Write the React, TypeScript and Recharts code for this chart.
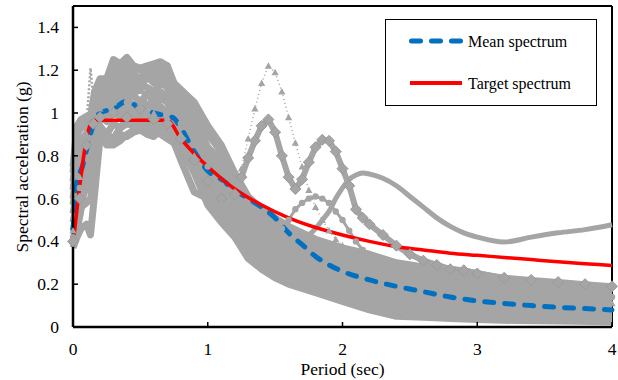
import React from 'react';
import { ComposedChart, Line, XAxis, YAxis, ReferenceLine, Legend } from 'recharts';

const FONT = '"Liberation Serif", "Times New Roman", Times, serif';
const GREY = '#A5A5A5';
const BLUE = '#0070C0';
const RED = '#FF0000';

// ---- periods (sec) shared by the band records ----
const periods = [0, 0.03, 0.06, 0.1, 0.13, 0.16, 0.2, 0.25, 0.3, 0.35, 0.4, 0.45, 0.5, 0.55, 0.6, 0.65, 0.7, 0.75, 0.8, 0.9, 1.0, 1.1, 1.2, 1.3, 1.4, 1.5, 1.6, 1.8, 2.0, 2.2, 2.4, 2.6, 2.8, 3.0, 3.3, 3.6, 4.0];

// ---- ground-motion records (spectral acceleration, g) ----
const record01 = [0.37, 0.42, 0.46, 0.48, 0.43, 0.62, 0.88, 0.86, 0.87, 0.9, 0.89, 0.91, 0.92, 0.9, 0.89, 0.92, 0.91, 0.87, 0.84, 0.72, 0.57, 0.49, 0.42, 0.32, 0.27, 0.23, 0.2, 0.16, 0.12, 0.08, 0.05, 0.045, 0.04, 0.035, 0.03, 0.028, 0.025];
const record02 = [0.4, 0.5, 0.6, 0.7, 0.75, 0.85, 0.92, 0.9, 0.88, 0.93, 0.95, 0.94, 0.96, 0.93, 0.92, 0.95, 0.94, 0.9, 0.86, 0.74, 0.6, 0.52, 0.45, 0.36, 0.3, 0.26, 0.22, 0.18, 0.14, 0.1, 0.07, 0.06, 0.055, 0.05, 0.045, 0.04, 0.035];
const record03 = [0.45, 0.53, 0.56, 0.58, 0.6, 0.72, 0.94, 0.9, 0.95, 0.93, 0.97, 0.95, 0.98, 0.96, 0.94, 0.98, 0.96, 0.93, 0.9, 0.78, 0.64, 0.57, 0.48, 0.38, 0.33, 0.29, 0.26, 0.21, 0.17, 0.13, 0.1, 0.094, 0.086, 0.078, 0.068, 0.062, 0.057];
const record04 = [0.49, 0.58, 0.62, 0.64, 0.68, 0.77, 0.99, 0.96, 1.01, 0.98, 1.02, 0.99, 1.03, 1.0, 0.98, 1.03, 1.0, 0.96, 0.92, 0.81, 0.67, 0.6, 0.5, 0.41, 0.36, 0.32, 0.28, 0.24, 0.2, 0.16, 0.13, 0.12, 0.11, 0.1, 0.087, 0.08, 0.073];
const record05 = [0.53, 0.63, 0.67, 0.69, 0.74, 0.82, 1.03, 1.0, 1.05, 1.02, 1.07, 1.03, 1.06, 1.04, 1.02, 1.07, 1.05, 0.99, 0.95, 0.84, 0.71, 0.64, 0.53, 0.44, 0.39, 0.35, 0.31, 0.26, 0.22, 0.19, 0.15, 0.14, 0.13, 0.12, 0.106, 0.097, 0.089];
const record06 = [0.57, 0.69, 0.72, 0.74, 0.8, 0.87, 1.06, 1.04, 1.09, 1.06, 1.1, 1.08, 1.05, 1.09, 1.07, 1.1, 1.08, 1.02, 0.98, 0.88, 0.74, 0.68, 0.56, 0.47, 0.42, 0.38, 0.34, 0.29, 0.25, 0.22, 0.18, 0.17, 0.155, 0.14, 0.125, 0.114, 0.105];
const record07 = [0.6, 0.74, 0.77, 0.79, 0.84, 0.92, 1.09, 1.07, 1.13, 1.1, 1.14, 1.11, 1.13, 1.12, 1.1, 1.14, 1.12, 1.05, 1.01, 0.91, 0.77, 0.71, 0.59, 0.5, 0.44, 0.4, 0.37, 0.32, 0.28, 0.24, 0.21, 0.19, 0.18, 0.16, 0.144, 0.131, 0.121];
const record08 = [0.64, 0.79, 0.82, 0.84, 0.88, 0.97, 1.12, 1.1, 1.17, 1.13, 1.18, 1.15, 1.12, 1.17, 1.14, 1.18, 1.15, 1.08, 1.04, 0.94, 0.81, 0.75, 0.62, 0.53, 0.47, 0.43, 0.4, 0.34, 0.3, 0.27, 0.23, 0.22, 0.2, 0.185, 0.163, 0.148, 0.137];
const record09 = [0.68, 0.84, 0.88, 0.9, 0.92, 1.02, 1.14, 1.12, 1.2, 1.17, 1.22, 1.18, 1.16, 1.2, 1.18, 1.21, 1.18, 1.1, 1.06, 0.97, 0.84, 0.78, 0.64, 0.56, 0.5, 0.46, 0.42, 0.37, 0.33, 0.3, 0.26, 0.24, 0.22, 0.21, 0.18, 0.166, 0.153];
const record10 = [0.72, 0.9, 0.93, 0.95, 0.96, 1.07, 1.14, 1.14, 1.24, 1.2, 1.25, 1.21, 1.2, 1.22, 1.21, 1.23, 1.22, 1.12, 1.09, 1.02, 0.9, 0.82, 0.67, 0.59, 0.53, 0.49, 0.45, 0.39, 0.35, 0.32, 0.28, 0.265, 0.247, 0.23, 0.2, 0.183, 0.17];
const record11 = [0.38, 0.45, 0.55, 0.7, 0.8, 0.88, 0.9, 0.85, 0.85, 0.87, 0.9, 0.92, 0.95, 0.93, 0.95, 0.9, 0.88, 0.86, 0.78, 0.63, 0.6, 0.52, 0.44, 0.38, 0.33, 0.29, 0.25, 0.2, 0.15, 0.11, 0.08, 0.07, 0.06, 0.05, 0.045, 0.04, 0.035];
const record12 = [0.75, 0.94, 0.97, 0.985, 0.985, 1.1, 1.16, 1.16, 1.25, 1.23, 1.26, 1.22, 1.21, 1.22, 1.23, 1.24, 1.22, 1.14, 1.11, 1.05, 0.94, 0.85, 0.72, 0.61, 0.55, 0.51, 0.47, 0.41, 0.37, 0.34, 0.3, 0.28, 0.27, 0.25, 0.21, 0.195, 0.18];
const recordDotted = [0.42, 0.6, 0.85, 0.95, 1.21, 1.0, 1.05, 1.0, 1.02, 1.05, 1.18, 1.0, 0.98, 1.0, 0.97, 1.0, 0.98, 0.95, 0.9, 0.8, 0.7, 0.62, 0.55, 0.47, 0.41, 0.36, 0.32, 0.27, 0.23, 0.19, 0.16, 0.14, 0.12, 0.11, 0.1, 0.09, 0.085];

const bandRecords = [record01, record02, record03, record04, record05, record06, record07, record08, record09, record10, record11, record12];

// ---- records with long-period peaks (finer period grid) ----
const peakPeriods = [0, 0.05, 0.1, 0.15, 0.2, 0.3, 0.4, 0.5, 0.6, 0.7, 0.8, 0.9, 1.0, 1.1, 1.2, 1.25, 1.3, 1.35, 1.4, 1.45, 1.5, 1.55, 1.6, 1.65, 1.7, 1.75, 1.8, 1.85, 1.9, 1.95, 2.0, 2.05, 2.1, 2.15, 2.2, 2.3, 2.4, 2.5, 2.6, 2.7, 2.8, 2.9, 3.0, 3.2, 3.4, 3.6, 3.8, 4.0];
const recordTriangles = [0.45, 0.7, 0.9, 1.0, 1.02, 1.05, 1.1, 1.05, 1.0, 0.98, 0.9, 0.8, 0.68, 0.58, 0.62, 0.74, 0.88, 1.02, 1.14, 1.22, 1.19, 1.1, 0.98, 0.86, 0.75, 0.64, 0.56, 0.5, 0.45, 0.41, 0.38, 0.36, 0.34, 0.32, 0.3, 0.27, 0.25, 0.23, 0.21, 0.2, 0.19, 0.18, 0.17, 0.15, 0.14, 0.13, 0.12, 0.11];
const recordDiamonds = [0.4, 0.6, 0.85, 0.95, 0.98, 1.0, 0.98, 1.02, 0.97, 0.95, 0.88, 0.78, 0.68, 0.6, 0.62, 0.7, 0.79, 0.87, 0.94, 0.97, 0.91, 0.8, 0.7, 0.645, 0.69, 0.77, 0.84, 0.875, 0.87, 0.82, 0.74, 0.66, 0.55, 0.51, 0.48, 0.43, 0.38, 0.34, 0.31, 0.29, 0.27, 0.265, 0.25, 0.23, 0.22, 0.21, 0.2, 0.19];
const recordSmooth = [0.5, 0.75, 0.92, 1.0, 1.05, 1.1, 1.08, 1.1, 1.05, 1.0, 0.92, 0.82, 0.72, 0.64, 0.58, 0.54, 0.5, 0.47, 0.45, 0.43, 0.42, 0.41, 0.4, 0.4, 0.41, 0.43, 0.46, 0.5, 0.54, 0.6, 0.65, 0.69, 0.71, 0.72, 0.715, 0.695, 0.66, 0.61, 0.56, 0.51, 0.47, 0.44, 0.42, 0.397, 0.42, 0.44, 0.455, 0.478];
const recordCircles = [0.42, 0.65, 0.88, 0.95, 1.05, 1.15, 1.05, 1.0, 1.08, 1.05, 0.95, 0.85, 0.75, 0.66, 0.58, 0.54, 0.5, 0.47, 0.45, 0.44, 0.44, 0.46, 0.5, 0.55, 0.58, 0.6, 0.61, 0.6, 0.58, 0.54, 0.5, 0.45, 0.4, 0.36, 0.33, 0.28, 0.25, 0.23, 0.22, 0.22, 0.23, 0.23, 0.21, 0.18, 0.17, 0.16, 0.15, 0.14];

// ---- mean and target spectra ----
const meanPeriods = [0, 0.03, 0.07, 0.12, 0.16, 0.2, 0.3, 0.4, 0.5, 0.6, 0.7, 0.75, 0.8, 0.9, 1.0, 1.1, 1.2, 1.3, 1.4, 1.5, 1.6, 1.7, 1.8, 1.9, 2.0, 2.2, 2.4, 2.6, 2.8, 3.0, 3.2, 3.4, 3.6, 3.8, 4.0];
const meanValues = [0.45, 0.68, 0.75, 0.88, 0.96, 1.0, 1.02, 1.055, 1.02, 1.0, 0.985, 0.975, 0.93, 0.82, 0.73, 0.69, 0.64, 0.6, 0.56, 0.51, 0.44, 0.385, 0.33, 0.29, 0.26, 0.22, 0.19, 0.165, 0.14, 0.122, 0.11, 0.1, 0.092, 0.086, 0.08];
const targetPeriods = [0, 0.15, 0.7, 0.8, 0.9, 1.0, 1.2, 1.4, 1.6, 1.8, 2.0, 2.2, 2.4, 2.6, 2.8, 3.0, 3.2, 3.4, 3.6, 3.8, 4.0];
const targetValues = [0.38, 0.966, 0.966, 0.88, 0.81, 0.75, 0.645, 0.57, 0.51, 0.465, 0.43, 0.4, 0.375, 0.36, 0.345, 0.335, 0.325, 0.315, 0.305, 0.296, 0.287];

// ---- axes ----
const xTicks = [0, 1, 2, 3, 4];
const yTicks = [0, 0.2, 0.4, 0.6, 0.8, 1, 1.2, 1.4];

const pts = (ts: number[], vs: number[]) => ts.map((t, i) => ({ t, sa: vs[i] }));

const TriangleDot = (props: any) => {
  const { cx, cy, index } = props;
  if (cx == null || cy == null) return <g key={`t${index}`} />;
  const s = 3.6;
  return <path key={`t${index}`} d={`M${cx},${cy - s} L${cx + s},${cy + s * 0.8} L${cx - s},${cy + s * 0.8} Z`} fill={GREY} />;
};
const DiamondDot = (props: any) => {
  const { cx, cy, index } = props;
  if (cx == null || cy == null) return <g key={`d${index}`} />;
  const s = 5.5;
  return <path key={`d${index}`} d={`M${cx},${cy - s} L${cx + s},${cy} L${cx},${cy + s} L${cx - s},${cy} Z`} fill={GREY} stroke="#9a9a9a" strokeWidth={1} />;
};
const CircleDot = (props: any) => {
  const { cx, cy, index } = props;
  if (cx == null || cy == null) return <g key={`c${index}`} />;
  return <circle key={`c${index}`} cx={cx} cy={cy} r={3.2} fill={GREY} />;
};

const XTick = (props: any) => {
  const { x, y, payload } = props;
  return (
    <text x={x} y={y} dy={12} textAnchor="middle" fontFamily={FONT} fontSize={17.5} fill="#000">{payload.value}</text>
  );
};
const YTick = (props: any) => {
  const { x, y, payload } = props;
  return (
    <text x={x} y={y} dy={6} textAnchor="end" fontFamily={FONT} fontSize={17.5} fill="#000">{payload.value}</text>
  );
};

const renderLegend = (props: any) => {
  const items = (props.payload || []).filter((p: any) => p.type !== 'none');
  return (
    <div style={{ width: 212, height: 87, border: '1.5px solid #000', boxSizing: 'border-box', background: '#fff' }}>
      <svg width={209} height={84} style={{ display: 'block' }}>
        {items.map((it: any, i: number) => {
          const y = i === 0 ? 21 : 63;
          const dashed = it.payload && it.payload.strokeDasharray;
          return (
            <g key={it.value}>
              <line x1={dashed ? 25.5 : 24} x2={dashed ? 74.5 : 76} y1={y} y2={y} stroke={it.color}
                strokeWidth={dashed ? 5 : 4} strokeDasharray={dashed ? '9 11' : undefined} strokeLinecap={dashed ? 'round' : 'butt'} />
              <text x={82} y={y} dominantBaseline="central" fontFamily={FONT} fontSize={16} fill="#000">{it.value}</text>
            </g>
          );
        })}
      </svg>
    </div>
  );
};

export default function App() {
  return (
    <div style={{ position: 'absolute', left: 0, top: 0, width: 618, height: 380, background: '#fff', fontFamily: FONT }}>
      <ComposedChart width={618} height={380} margin={{ top: 6, right: 6, bottom: 0, left: 0 }} style={{ fontFamily: FONT }}>
        <XAxis type="number" dataKey="t" domain={[0, 4]} ticks={xTicks} interval={0} height={53}
          axisLine={{ stroke: '#000', strokeWidth: 2.5 }} tickLine={{ stroke: '#000', strokeWidth: 1.5 }}
          tickSize={-5} tickMargin={21} tick={XTick}
          label={() => (
            <text x={342.5} y={375} textAnchor="middle" fontFamily={FONT} fontSize={17.5} fill="#000">Period (sec)</text>
          )} />
        <YAxis type="number" dataKey="sa" domain={[0, 1.5]} ticks={yTicks} interval={0} width={73}
          axisLine={{ stroke: '#000', strokeWidth: 2.5 }} tickLine={{ stroke: '#000', strokeWidth: 1.5 }}
          tickSize={-5} tickMargin={19} tick={YTick}
          label={() => (
            <text x={22} y={167} transform="rotate(-90 22 167)" textAnchor="middle" dominantBaseline="central"
              fontFamily={FONT} fontSize={17.5} fill="#000">Spectral acceleration (g)</text>
          )} />
        <ReferenceLine y={1.5} stroke="#000" strokeWidth={2} />
        <ReferenceLine x={4} stroke="#000" strokeWidth={2} />

        {bandRecords.map((r, i) => (
          <Line key={`rec${i}`} data={pts(periods, r)} dataKey="sa" type="linear" stroke={GREY} strokeWidth={7}
            strokeLinejoin="round" dot={false} activeDot={false} legendType="none" isAnimationActive={false} />
        ))}
        <Line data={pts(periods, recordDotted)} dataKey="sa" type="linear" stroke={GREY} strokeWidth={2.5}
          strokeDasharray="2 2" dot={false} activeDot={false} legendType="none" isAnimationActive={false} />
        <Line data={pts(peakPeriods, recordSmooth)} dataKey="sa" type="monotone" stroke={GREY} strokeWidth={5}
          dot={false} activeDot={false} legendType="none" isAnimationActive={false} />
        <Line data={pts(peakPeriods, recordCircles)} dataKey="sa" type="linear" stroke={GREY} strokeWidth={3}
          dot={CircleDot} activeDot={false} legendType="none" isAnimationActive={false} />
        <Line data={pts(peakPeriods, recordDiamonds)} dataKey="sa" type="linear" stroke={GREY} strokeWidth={6}
          strokeLinejoin="round" dot={DiamondDot} activeDot={false} legendType="none" isAnimationActive={false} />
        <Line data={pts(peakPeriods, recordTriangles)} dataKey="sa" type="linear" stroke={GREY} strokeWidth={1.5}
          strokeDasharray="1 3" dot={TriangleDot} activeDot={false} legendType="none" isAnimationActive={false} />

        <Line name="Mean spectrum" data={pts(meanPeriods, meanValues)} dataKey="sa" type="monotone" stroke={BLUE}
          strokeWidth={5} strokeDasharray="9 11" strokeLinecap="round" dot={false} activeDot={false} isAnimationActive={false} />
        <Line name="Target spectrum" data={pts(targetPeriods, targetValues)} dataKey="sa" type="monotone" stroke={RED}
          strokeWidth={3.5} dot={false} activeDot={false} isAnimationActive={false} />

        <Legend content={renderLegend} layout="horizontal" verticalAlign="middle" align="center"
          wrapperStyle={{ left: 385, top: 19, width: 212, height: 87 }} />
      </ComposedChart>
    </div>
  );
}
